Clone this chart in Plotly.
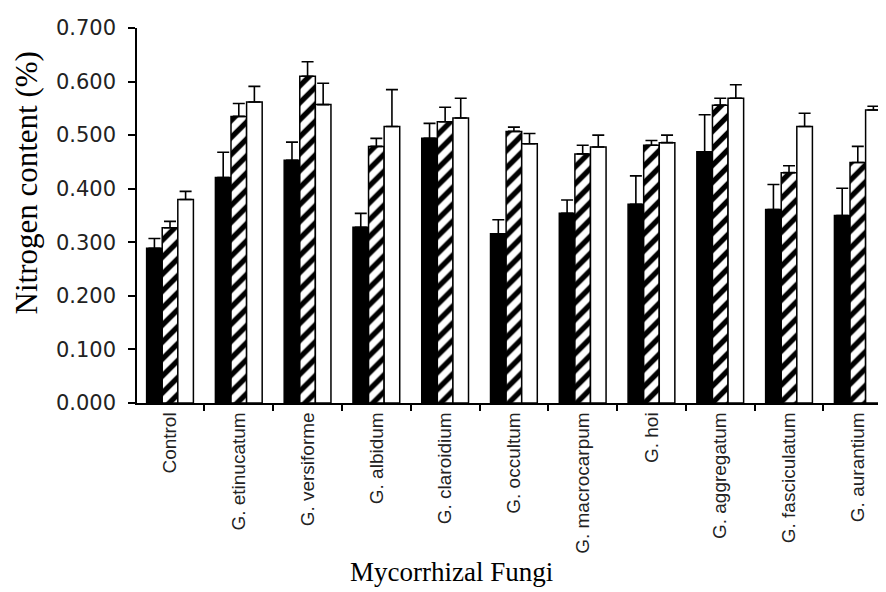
import plotly.graph_objects as go

categories = ["Control", "G. etinucatum", "G. versiforme", "G. albidum", "G. claroidium",
              "G. occultum", "G. macrocarpum", "G. hoi", "G. aggregatum",
              "G. fasciculatum", "G. aurantium"]

black_vals = [0.289, 0.421, 0.453, 0.328, 0.494, 0.316, 0.354, 0.371, 0.469, 0.361, 0.350]
black_err = [0.018, 0.047, 0.034, 0.026, 0.028, 0.026, 0.025, 0.053, 0.069, 0.047, 0.051]

hatch_vals = [0.327, 0.535, 0.610, 0.479, 0.525, 0.507, 0.465, 0.481, 0.556, 0.430, 0.449]
hatch_err = [0.012, 0.024, 0.027, 0.015, 0.027, 0.008, 0.016, 0.009, 0.013, 0.013, 0.030]

white_vals = [0.380, 0.562, 0.557, 0.516, 0.532, 0.484, 0.478, 0.486, 0.569, 0.516, 0.547]
white_err = [0.015, 0.029, 0.040, 0.069, 0.037, 0.019, 0.022, 0.014, 0.025, 0.025, 0.007]

y_ticks = [0.0, 0.1, 0.2, 0.3, 0.4, 0.5, 0.6, 0.7]


def err(arr):
    return dict(type="data", symmetric=False, array=arr, arrayminus=[0] * len(arr),
                color="black", thickness=1.6, width=6)


fig = go.Figure()
fig.add_trace(go.Bar(x=categories, y=black_vals, name="Series 1",
                     marker=dict(color="black", line=dict(color="black", width=1.5)),
                     error_y=err(black_err)))
fig.add_trace(go.Bar(x=categories, y=hatch_vals, name="Series 2",
                     marker=dict(color="white", line=dict(color="black", width=1.5),
                                 pattern=dict(shape="/", fgcolor="black", bgcolor="white",
                                              fgopacity=1, size=12, solidity=0.45)),
                     error_y=err(hatch_err)))
fig.add_trace(go.Bar(x=categories, y=white_vals, name="Series 3",
                     marker=dict(color="white", line=dict(color="black", width=1.5)),
                     error_y=err(white_err)))

fig.update_layout(
    width=886, height=592,
    margin=dict(l=129, r=8, t=11, b=197),
    paper_bgcolor="white", plot_bgcolor="white",
    barmode="group", bargap=0.32, bargroupgap=0,
    showlegend=False,
    xaxis=dict(range=[-0.48, 10.41], showline=True, linecolor="black", linewidth=1.5,
               ticks="outside", tickson="boundaries", ticklen=6, tickcolor="black",
               tickwidth=1.5, tickangle=-90, showgrid=False,
               tickfont=dict(family="Liberation Sans, Arial", size=19, color="#222")),
    yaxis=dict(range=[0, 0.7], tickvals=y_ticks, tickformat=".3f", showline=True,
               linecolor="black", linewidth=1.5, ticks="outside", ticklen=7,
               tickcolor="black", tickwidth=1.5, showgrid=False, zeroline=False,
               ticklabelstandoff=8, ticklabeloverflow="allow",
               tickfont=dict(family="DejaVu Sans", size=21, color="#222")),
    annotations=[
        dict(text="Mycorrhizal Fungi", xref="paper", yref="paper", x=0.42, y=0,
             xanchor="center", yanchor="middle", yshift=-169, showarrow=False,
             font=dict(family="Liberation Serif, Times New Roman", size=27, color="black")),
        dict(text="Nitrogen content (%)", xref="paper", yref="paper", x=-0.1469, y=0.588,
             xanchor="center", yanchor="middle", textangle=-90, showarrow=False,
             font=dict(family="Liberation Serif, Times New Roman", size=31, color="black")),
    ],
)

fig.write_html("out.html")
